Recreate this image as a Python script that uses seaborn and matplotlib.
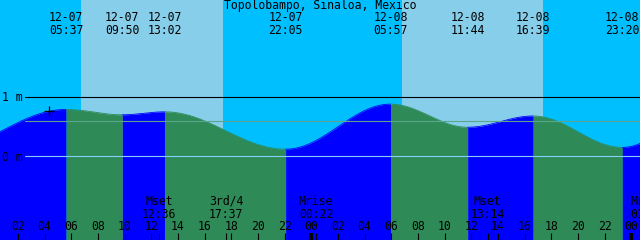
import numpy as np
import pandas as pd
import matplotlib
matplotlib.use("Agg")
import matplotlib.pyplot as plt
import seaborn as sns

# ---------------- data ----------------
title = "Topolobampo, Sinaloa, Mexico"

tide_dates = ["12-07", "12-07", "12-07", "12-07", "12-08", "12-08", "12-08", "12-08"]
tide_times = ["05:37", "09:50", "13:02", "22:05", "05:57", "11:44", "16:39", "23:20"]
tide_heights = [0.79, 0.70, 0.75, 0.12, 0.88, 0.49, 0.68, 0.15]

# tide extremes just outside the window (shape of the curve at the edges)
edge_before = ("12-06", "19:48", 0.05)
edge_after = ("12-09", "06:15", 0.90)

moon_names = ["Mset", "3rd/4", "Mrise", "Mset", "Mrise"]
moon_dates = ["12-07", "12-07", "12-08", "12-08", "12-09"]
moon_times = ["12:36", "17:37", "00:22", "13:14", "01:15"]

sunrise = [("12-07", "06:46"), ("12-08", "06:50")]
sunset = [("12-07", "17:25"), ("12-08", "17:25")]

hour_ticks = list(range(2, 49, 2))
hour_labels = [f"{h % 24:02d}" for h in hour_ticks]

level_lines = [1.0, 0.6, 0.0]
level_labels = ["1 m", None, "0 m"]
now_mark = ("12-07", "04:22", 0.76)

# ---------------- helpers ----------------
def to_hours(d, t):
    day = int(d.split("-")[1])
    hh, mm = t.split(":")
    return (day - 7) * 24 + int(hh) + int(mm) / 60.0

ev_t = [to_hours(*edge_before[:2])] + [to_hours(d, t) for d, t in zip(tide_dates, tide_times)] + [to_hours(*edge_after[:2])]
ev_h = [edge_before[2]] + tide_heights + [edge_after[2]]

segs = []
for i in range(len(ev_t) - 1):
    t0, t1, h0, h1 = ev_t[i], ev_t[i + 1], ev_h[i], ev_h[i + 1]
    tt = np.linspace(t0, t1, 200)
    hh = h0 + (h1 - h0) * (1 - np.cos(np.pi * (tt - t0) / (t1 - t0))) / 2
    segs.append(pd.DataFrame({"hour": tt, "height": hh, "rising": h1 > h0}))

# ---------------- figure ----------------
W, H = 640, 240
X0 = 0.66
PXH = 13.3333
PX_M = 59.3
Y0PX = 156.3
xlim = (X0, X0 + W / PXH)
ylim = (-(H - Y0PX) / PX_M, Y0PX / PX_M)

sns.set_style("white")
plt.rcParams["font.family"] = ["DejaVu Sans Mono", "DejaVu Sans"]
plt.rcParams["text.color"] = "black"
fig = plt.figure(figsize=(6.4, 2.4), dpi=100)
ax = fig.add_axes([0, 0, 1, 1])
ax.set_facecolor("#00bfff")
for s in ax.spines.values():
    s.set_visible(False)

for (d1, t1), (d2, t2) in zip(sunrise, sunset):
    ax.axvspan(to_hours(d1, t1), to_hours(d2, t2), color="#87ceeb", lw=0, zorder=0)

for seg in segs:
    col = "#0000ff" if seg["rising"].iloc[0] else "#2e8b57"
    ax.fill_between(seg["hour"], ylim[0], seg["height"], color=col, lw=0, zorder=1)
    sns.lineplot(data=seg, x="hour", y="height", color=col, lw=0.6, ax=ax, zorder=1, legend=False)
ax.set_xlabel("")
ax.set_ylabel("")
ax.set_xlim(*xlim)
ax.set_ylim(*ylim)
ax.set_xticks([])
ax.set_yticks([])

line_cols = ["#000000", "#5aa58c", "#87cefa"]
for lv, lc in zip(level_lines, line_cols):
    ax.axhline(lv, xmin=25 / W, xmax=1, color=lc, lw=0.8, zorder=3)

fs = 8.3
ytr = ax.get_yaxis_transform()
for lv, lab in zip(level_lines, level_labels):
    if lab:
        ax.text(2 / W, lv - 4.4 / PX_M, lab, transform=ytr, ha="left", va="baseline",
                fontsize=fs, color="black", zorder=4)

ax.plot([to_hours(*now_mark[:2])], [now_mark[2]], marker="+", ms=7, mew=0.9, color="black", zorder=4)

xtr = ax.get_xaxis_transform()
ax.text(0.5, 1 - 9.0 / H, title, transform=ax.transAxes, ha="center", va="baseline",
        fontsize=fs, color="black", zorder=4)
for d, t in zip(tide_dates, tide_times):
    x = to_hours(d, t)
    ax.text(x, 1 - 20.7 / H, d, transform=xtr, ha="center", va="baseline", fontsize=fs, color="black", zorder=4)
    ax.text(x, 1 - 34 / H, t, transform=xtr, ha="center", va="baseline", fontsize=fs, color="black", zorder=4)

for n, d, t in zip(moon_names, moon_dates, moon_times):
    x = to_hours(d, t)
    ax.text(x, 1 - 205 / H, n, transform=xtr, ha="center", va="baseline", fontsize=fs, color="black", zorder=4)
    ax.text(x, 1 - 217.7 / H, t, transform=xtr, ha="center", va="baseline", fontsize=fs, color="black", zorder=4)
    ax.vlines(x, 0, 7 / H, transform=xtr, color="black", lw=0.8, zorder=4)

for h, lab in zip(hour_ticks, hour_labels):
    ax.text(h, 1 - 230 / H, lab, transform=xtr, ha="center", va="baseline", fontsize=fs, color="black", zorder=4)
    thick = (h % 24 == 0)
    ax.vlines(h, 0, 7 / H, transform=xtr, color="black", lw=2.9 if thick else 0.8, zorder=4)

fig.savefig("out.png", dpi=100)
